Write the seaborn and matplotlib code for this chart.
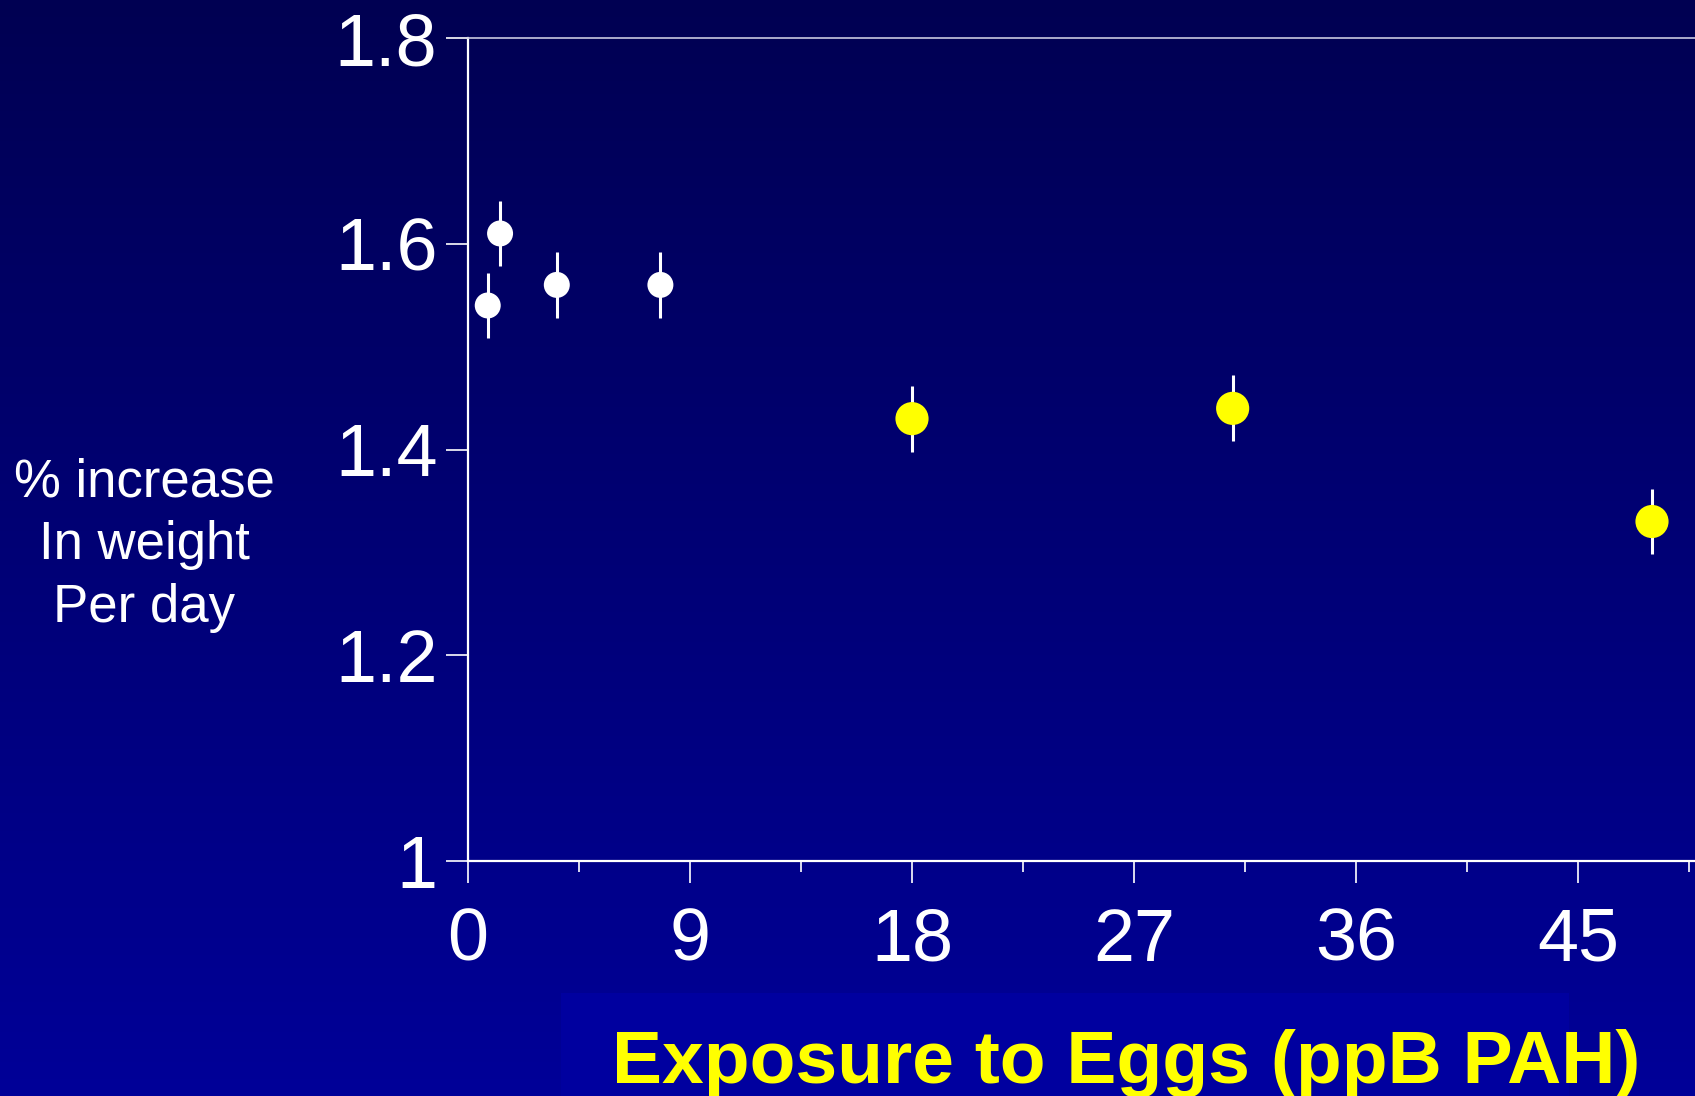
import numpy as np
import pandas as pd
import matplotlib
matplotlib.use("Agg")
import matplotlib.pyplot as plt
from matplotlib.patches import Rectangle
import seaborn as sns

# data
exposure = [0.8, 1.3, 3.6, 7.8, 18.0, 31.0, 48.0]
weight_gain = [1.54, 1.61, 1.56, 1.56, 1.43, 1.44, 1.33]
weight_err = [0.032, 0.032, 0.032, 0.032, 0.032, 0.032, 0.032]
group = ["low", "low", "low", "low", "high", "high", "high"]

x_ticks = [0, 9, 18, 27, 36, 45]
y_ticks = [1.0, 1.2, 1.4, 1.6, 1.8]
y_tick_labels = ["1", "1.2", "1.4", "1.6", "1.8"]

df = pd.DataFrame({"exposure": exposure, "gain": weight_gain,
                   "err": weight_err, "group": group})

sns.set_style("white")
plt.rcParams["font.family"] = ["Liberation Sans", "DejaVu Sans"]

W, H = 1695, 1096
fig = plt.figure(figsize=(W / 100, H / 100), dpi=100)

# gradient background
bg = fig.add_axes([0, 0, 1, 1], zorder=0)
grad = np.linspace(0, 1, 256).reshape(-1, 1)
cmap = matplotlib.colors.LinearSegmentedColormap.from_list("bg", ["#000052", "#000098"])
bg.imshow(grad, aspect="auto", cmap=cmap, extent=[0, 1, 0, 1], origin="upper")
bg.axis("off")
bg.add_patch(Rectangle((561 / W, 0), (1569 - 561) / W, (1096 - 993) / H,
                       color="#00009f", lw=0))

left, right = 468 / W, 1.0
bottom, top = 1 - 861 / H, 1 - 38 / H
ax = fig.add_axes([left, bottom, right - left, top - bottom], zorder=1)
ax.set_facecolor("none")

px_per_unit = 222 / 9
ax.set_xlim(0, (W - 468) / px_per_unit)
ax.set_ylim(1.0, 1.8)

ax.vlines(df["exposure"], df["gain"] - df["err"], df["gain"] + df["err"],
          color="white", lw=2.2, zorder=2)
sns.scatterplot(data=df, x="exposure", y="gain", hue="group", size="group",
                palette={"low": "white", "high": "#ffff00"},
                sizes={"low": 350, "high": 570},
                edgecolor="none", legend=False, ax=ax, zorder=3)

for s in ["left", "bottom"]:
    ax.spines[s].set_color("white")
    ax.spines[s].set_linewidth(1.6)
ax.spines["top"].set_color("#c8c8e0")
ax.spines["top"].set_linewidth(1.2)
ax.spines["right"].set_visible(False)

ax.set_xticks(x_ticks)
ax.set_xticks(np.arange(4.5, 50, 9), minor=True)
ax.set_yticks(y_ticks)
ax.set_yticklabels(y_tick_labels)
ax.tick_params(axis="both", which="major", colors="white", labelsize=53,
               width=1.2, length=16, direction="out")
ax.tick_params(axis="x", which="major", pad=17, bottom=True)
ax.tick_params(axis="y", which="major", pad=6, left=True)
ax.tick_params(axis="x", which="minor", colors="white", width=1.2, length=8,
               direction="out", bottom=True)
ax.set_xlabel("")
ax.set_ylabel("")

fig.text(144 / W, 1 - 545 / H, "% increase\nIn weight\nPer day", color="white",
         fontsize=38, ha="center", va="center", multialignment="center",
         linespacing=1.33)
fig.text(1126 / W, 1 - 1083 / H, "Exposure to Eggs (ppB PAH)", color="#ffff00",
         fontsize=54, fontweight="bold", ha="center", va="baseline")

fig.savefig("out.png", dpi=100)
